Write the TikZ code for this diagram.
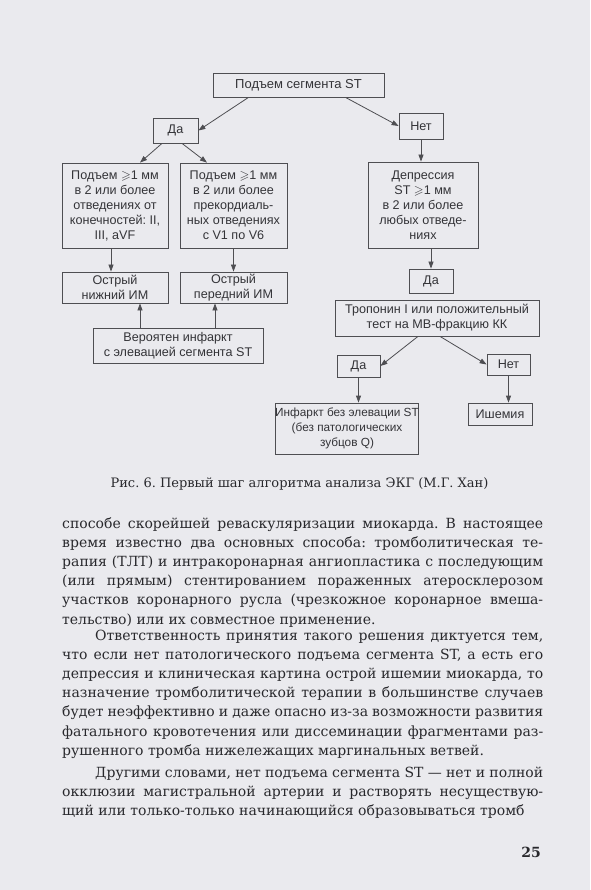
\documentclass[tikz,border=0pt]{standalone}
\usepackage{fontspec}
\usepackage{amssymb}
\setmainfont{DejaVu Serif}
\newfontfamily\diafont{Liberation Sans}
\usetikzlibrary{arrows.meta}
\definecolor{pagebg}{RGB}{234,234,238}
\definecolor{ink}{RGB}{40,40,44}
\definecolor{boxline}{RGB}{78,78,82}
\definecolor{boxtext}{RGB}{52,52,56}
\hyphenpenalty=10000
\exhyphenpenalty=10000
\tolerance=10000
\frenchspacing

\begin{document}
\begin{tikzpicture}[x=1pt, y=-1pt,
    box/.style={draw=boxline, line width=0.8pt, inner sep=0pt, align=center, text=boxtext, font=\diafont\fontsize{12.6}{15}\selectfont},
    arr/.style={draw=boxline, line width=0.8pt, -{Triangle[length=7pt,width=5pt]}},
    body/.style={anchor=base west, inner sep=0pt, text width=481pt, align=justify, text=ink, font=\fontsize{14}{19.2}\selectfont}]
    \fill[pagebg] (0,0) rectangle (590,890);

    % algorithm
    \node (seg) [box, font=\diafont\fontsize{13}{15}\selectfont, minimum width=171pt, minimum height=24pt] at (298.5,85) {Подъем сегмента ST};
    \node (yes1) [box, minimum width=45pt, minimum height=25pt] at (175.5,130.5) {Да};
    \node (no1) [box, minimum width=44pt, minimum height=26pt] at (421,126) {Нет};
    \node (limb) [box, minimum width=106pt, minimum height=85pt] at (115,205.5) {Подъем $\geqslant$1 мм\\в 2 или более\\отведениях от\\конечностей: II,\\III, aVF};
    \node (prec) [box, minimum width=107pt, minimum height=85pt] at (233.5,205.5) {Подъем $\geqslant$1 мм\\в 2 или более\\прекордиаль-\\ных отведениях\\с V1 по V6};
    \node (depr) [box, minimum width=110pt, minimum height=86pt] at (423,205) {Депрессия\\ST $\geqslant$1 мм\\в 2 или более\\любых отведе-\\ниях};
    \node (infim) [box, minimum width=106pt, minimum height=31pt] at (115,287.5) {Острый\\нижний ИМ};
    \node (antim) [box, minimum width=107pt, minimum height=31pt] at (233.5,287.5) {Острый\\передний ИМ};
    \node (stemi) [box, minimum width=170pt, minimum height=35pt] at (178,345.5) {Вероятен инфаркт\\с элевацией сегмента ST};
    \node (yes2) [box, minimum width=44pt, minimum height=24pt] at (431,281) {Да};
    \node (trop) [box, minimum width=204pt, minimum height=36pt] at (437,318) {Тропонин I или положительный\\тест на МВ-фракцию КК};
    \node (yes3) [box, minimum width=43pt, minimum height=22pt] at (358.5,366) {Да};
    \node (no3) [box, minimum width=43pt, minimum height=21pt] at (508.5,364.5) {Нет};
    \node (nstemi) [box, font=\diafont\fontsize{11.8}{15}\selectfont, minimum width=132pt, minimum height=51pt] at (347,428.5) {Инфаркт без элевации ST\\(без патологических\\зубцов Q)};
    \node (isch) [box, minimum width=64pt, minimum height=22pt] at (500,414) {Ишемия};

    \draw[arr] ([xshift=-50pt]seg.south) -- (yes1.east);
    \draw[arr] ([xshift=47pt]seg.south) -- (no1.west);
    \draw[arr] ([xshift=-13.5pt]yes1.south) -- ([xshift=25pt]limb.north);
    \draw[arr] ([xshift=6.5pt]yes1.south) -- ([xshift=-26.5pt]prec.north);
    \draw[arr] (no1.south) -- (no1.south |- depr.north);
    \draw[arr] ([xshift=-4pt]limb.south) -- ([xshift=-4pt]infim.north);
    \draw[arr] (prec.south) -- (antim.north);
    \draw[arr] ([xshift=25pt]infim.south |- stemi.north) -- ([xshift=25pt]infim.south);
    \draw[arr] ([xshift=-18.5pt]antim.south |- stemi.north) -- ([xshift=-18.5pt]antim.south);
    \draw[arr] (yes2.north |- depr.south) -- (yes2.north);
    \draw[arr] ([xshift=-19pt]trop.south) -- (yes3.east);
    \draw[arr] ([xshift=3pt]trop.south) -- (no3.west);
    \draw[arr] (yes3.south) -- (yes3.south |- nstemi.north);
    \draw[arr] (no3.south) -- (no3.south |- isch.north);

    % caption and page text
    \node (caption) [anchor=base, inner sep=0pt, text=ink, font=\fontsize{13}{15}\selectfont] at (299.5,487) {Рис. 6. Первый шаг алгоритма анализа ЭКГ (М.Г. Хан)};
    \node (par1) [body] at (62,528) {способе скорейшей реваскуляризации миокарда. В~настоящее\linebreak
        время известно два основных способа: тромболитическая те-\linebreak
        рапия (ТЛТ) и интракоронарная ангиопластика с последующим\linebreak
        (или прямым) стентированием пораженных атеросклерозом\linebreak
        участков коронарного русла (чрезкожное коронарное вмеша-\linebreak
        тельство) или их совместное применение.};
    \node (par2) [body] at (62,640) {\hspace*{33pt}Ответственность принятия такого решения диктуется тем,\linebreak
        что если нет патологического подъема сегмента ST, а есть его\linebreak
        депрессия и клиническая картина острой ишемии миокарда, то\linebreak
        назначение тромболитической терапии в большинстве случаев\linebreak
        будет неэффективно и даже опасно из-за возможности развития\linebreak
        фатального кровотечения или диссеминации фрагментами раз-\linebreak
        рушенного тромба нижележащих маргинальных ветвей.};
    \node (par3) [body] at (62,777) {\parfillskip=0pt \hspace*{33pt}Другими словами, нет подъема сегмента ST~— нет и полной\linebreak
        окклюзии магистральной артерии и растворять несуществую-\linebreak
        щий или только-только начинающийся образовываться тромб};
    \node (pagenum) [anchor=base east, inner sep=0pt, text=ink, font=\bfseries\fontsize{14}{17}\selectfont] at (541,857) {25};
\end{tikzpicture}
\end{document}
